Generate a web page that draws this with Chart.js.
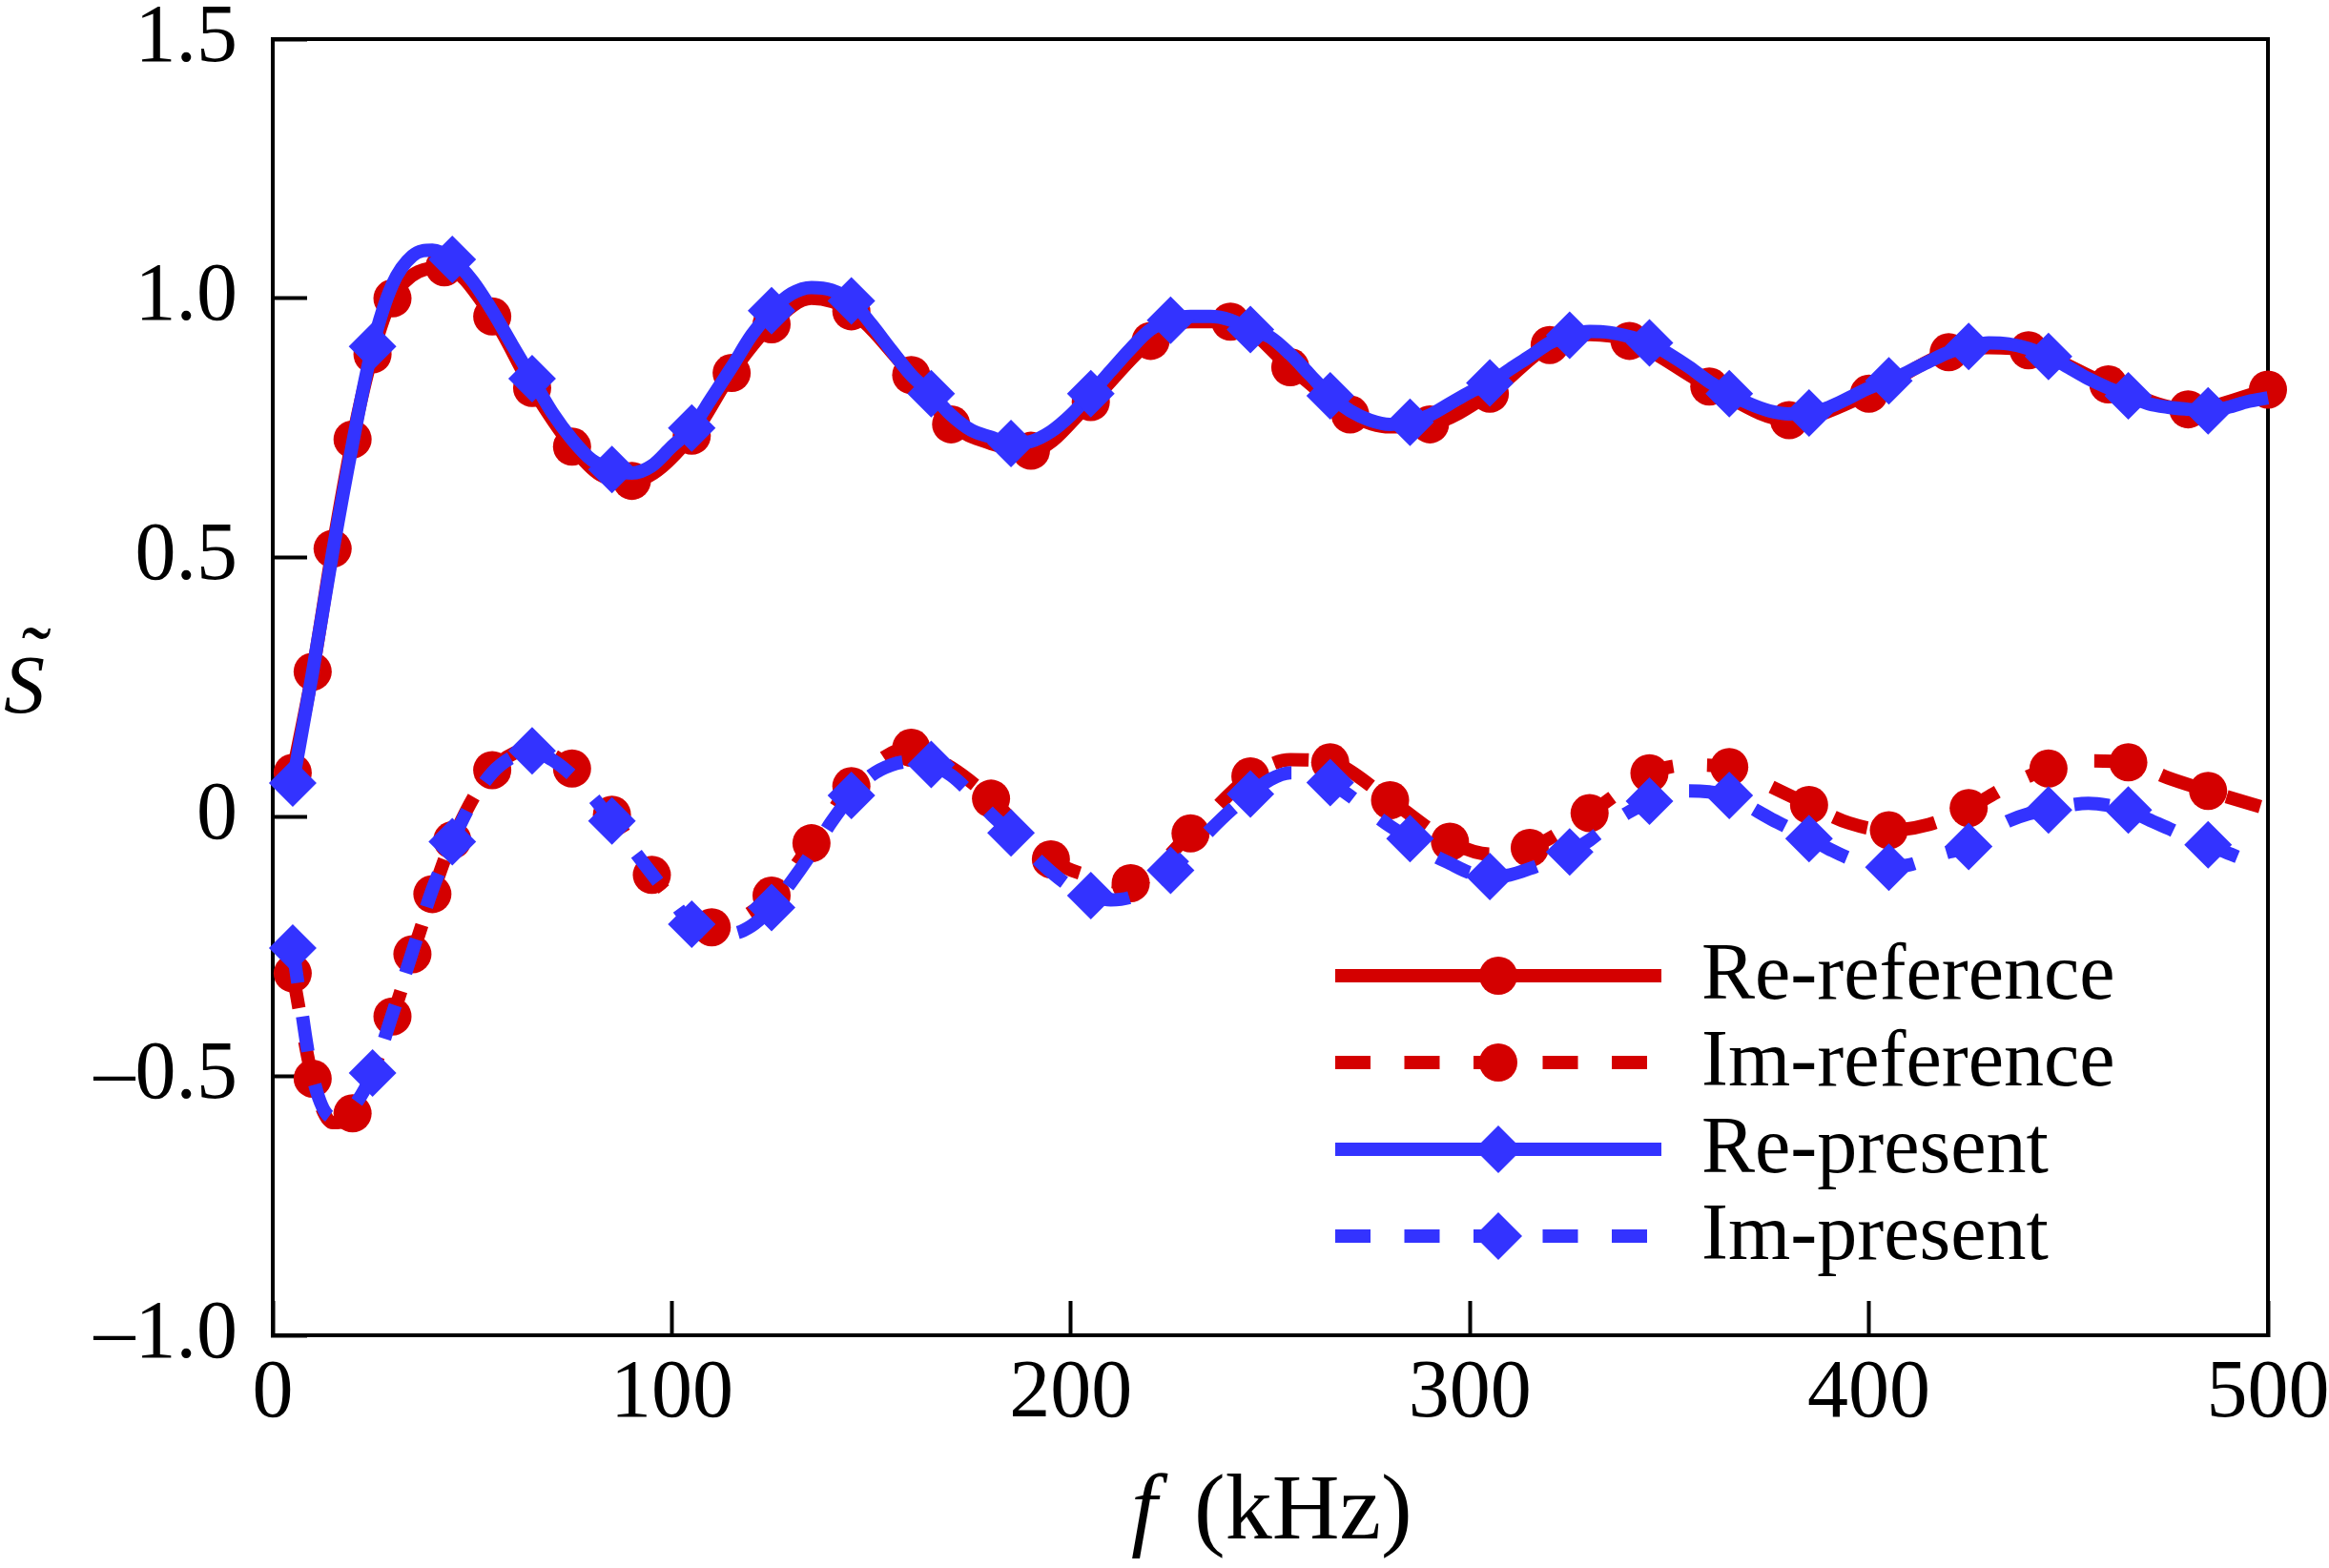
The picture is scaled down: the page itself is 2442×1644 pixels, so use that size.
<!DOCTYPE html>
<html>
<head>
<meta charset="utf-8">
<title>S vs f</title>
<script src="https://cdn.jsdelivr.net/npm/chart.js@4.4.1/dist/chart.umd.min.js"></script>
<style>
  body { margin: 0; background: #fff; }
  canvas { display: block; }
</style>
</head>
<body>
<canvas id="grafico" width="2442" height="1644"></canvas>
<script>
// referencia, parte real: frecuencias (kHz), valores y donde va un circulo
const reRefF = [5, 10, 15, 20, 25, 30, 43, 55, 65, 75, 82, 90, 105, 115, 125, 135, 145, 160, 170, 180, 190, 205, 220, 230, 240, 255, 270, 280, 290, 305, 320, 330, 340, 360, 380, 400, 420, 430, 440, 460, 480, 500];
const reRefS = [0.085, 0.28, 0.517, 0.728, 0.892, 1.0, 1.06, 0.965, 0.827, 0.714, 0.66, 0.648, 0.735, 0.856, 0.95, 1.0, 0.975, 0.852, 0.757, 0.72, 0.706, 0.8, 0.918, 0.955, 0.955, 0.867, 0.776, 0.752, 0.757, 0.816, 0.91, 0.93, 0.918, 0.83, 0.765, 0.816, 0.896, 0.905, 0.9, 0.834, 0.786, 0.824];
const reRefMarcas = [5, 10, 15, 20, 25, 30, 43, 55, 65, 75, 90, 105, 115, 125, 145, 160, 170, 190, 205, 220, 240, 255, 270, 290, 305, 320, 340, 360, 380, 400, 420, 440, 460, 480, 500];

// referencia, parte imaginaria
const imRefF = [5, 10, 15, 20, 30, 35, 40, 45, 55, 65, 75, 85, 95, 110, 125, 135, 145, 160, 170, 180, 195, 205, 215, 230, 245, 255, 265, 280, 295, 305, 315, 330, 345, 355, 365, 375, 385, 395, 405, 415, 425, 435, 445, 455, 465, 475, 485, 500];
const imRefS = [-0.302, -0.505, -0.59, -0.572, -0.385, -0.265, -0.149, -0.045, 0.09, 0.13, 0.093, 0.004, -0.112, -0.213, -0.152, -0.051, 0.059, 0.133, 0.095, 0.035, -0.082, -0.115, -0.128, -0.032, 0.078, 0.11, 0.105, 0.032, -0.048, -0.072, -0.06, 0.007, 0.084, 0.1, 0.096, 0.06, 0.023, -0.012, -0.026, -0.015, 0.017, 0.06, 0.093, 0.108, 0.105, 0.075, 0.05, 0.015];
const imRefMarcas = [5, 10, 20, 30, 35, 40, 45, 55, 75, 85, 95, 110, 125, 135, 145, 160, 180, 195, 215, 230, 245, 265, 280, 295, 315, 330, 345, 365, 385, 405, 425, 445, 465, 485];

// modelo presente, cada 5 kHz
const presF = [5, 10, 15, 20, 25, 30, 35, 40, 45, 50, 55, 60, 65, 70, 75, 80, 85, 90, 95, 100,
  105, 110, 115, 120, 125, 130, 135, 140, 145, 150, 155, 160, 165, 170, 175, 180, 185, 190, 195, 200,
  205, 210, 215, 220, 225, 230, 235, 240, 245, 250, 255, 260, 265, 270, 275, 280, 285, 290, 295, 300,
  305, 310, 315, 320, 325, 330, 335, 340, 345, 350, 355, 360, 365, 370, 375, 380, 385, 390, 395, 400,
  405, 410, 415, 420, 425, 430, 435, 440, 445, 450, 455, 460, 465, 470, 475, 480, 485, 490, 495, 500];
const rePresS = [0.065, 0.28, 0.51, 0.72, 0.907, 1.027, 1.082, 1.093, 1.075, 1.034, 0.976, 0.91, 0.845, 0.78, 0.728, 0.688, 0.67, 0.663, 0.677, 0.714,
  0.75, 0.808, 0.867, 0.929, 0.976, 1.009, 1.021, 1.016, 0.995, 0.95, 0.9, 0.852, 0.816, 0.775, 0.746, 0.732, 0.72, 0.724, 0.743, 0.775,
  0.816, 0.86, 0.903, 0.94, 0.958, 0.965, 0.965, 0.958, 0.94, 0.925, 0.892, 0.852, 0.812, 0.783, 0.765, 0.757, 0.761, 0.775, 0.797, 0.819,
  0.837, 0.863, 0.888, 0.914, 0.929, 0.936, 0.934, 0.926, 0.914, 0.892, 0.867, 0.839, 0.816, 0.797, 0.783, 0.777, 0.779, 0.79, 0.808, 0.827,
  0.841, 0.859, 0.878, 0.896, 0.907, 0.914, 0.912, 0.903, 0.888, 0.867, 0.845, 0.827, 0.812, 0.797, 0.79, 0.786, 0.783, 0.79, 0.801, 0.808];
const imPresS = [-0.253, -0.5, -0.58, -0.56, -0.494, -0.38, -0.26, -0.14, -0.048, 0.03, 0.085, 0.115, 0.127, 0.11, 0.08, 0.04, -0.008, -0.06, -0.11, -0.16,
  -0.207, -0.225, -0.225, -0.21, -0.175, -0.125, -0.07, -0.01, 0.041, 0.08, 0.1, 0.107, 0.101, 0.08, 0.045, 0.005, -0.031, -0.07, -0.106, -0.135,
  -0.152, -0.16, -0.155, -0.135, -0.103, -0.065, -0.025, 0.012, 0.044, 0.072, 0.085, 0.085, 0.066, 0.04, 0.01, -0.018, -0.042, -0.07, -0.09, -0.108,
  -0.115, -0.112, -0.1, -0.085, -0.068, -0.045, -0.015, 0.01, 0.03, 0.045, 0.05, 0.048, 0.041, 0.02, -0.002, -0.022, -0.042, -0.062, -0.08, -0.092,
  -0.097, -0.093, -0.08, -0.068, -0.057, -0.03, -0.008, 0.006, 0.013, 0.022, 0.026, 0.022, 0.013, -0.005, -0.022, -0.04, -0.054, -0.07, -0.085, -0.097];
const presMarcas = [5, 25, 45, 65, 85, 105, 125, 145, 165, 185, 205, 225, 245, 265, 285, 305, 325, 345, 365, 385, 405, 425, 445, 465, 485];

const xTicks = [0, 100, 200, 300, 400, 500];
const yTicks = [-1, -0.5, 0, 0.5, 1, 1.5];
const leyenda = ["Re-reference", "Im-reference", "Re-present", "Im-present"];

const rojo = "#d40000";
const azul = "#3333ff";
const fuente = "'Liberation Serif', 'Times New Roman', serif";
const grosor = 14;
const guiones = [37, 35.5];

// arma un dataset de linea con marcadores solo en algunas frecuencias
const serie = (etiqueta, fs, ss, marcas, color, estilo, radio, discontinua, orden) => ({
  label: etiqueta,
  data: fs.map((f, i) => ({ x: f, y: ss[i] })),
  borderColor: color,
  backgroundColor: color,
  borderWidth: grosor,
  borderDash: discontinua ? guiones : [],
  borderJoinStyle: "round",
  cubicInterpolationMode: "monotone",
  pointStyle: estilo,
  pointRadius: (ctx) => (marcas.includes(fs[ctx.dataIndex]) ? radio : 0),
  pointBorderWidth: 0,
  pointHoverRadius: 0,
  clip: false,
  order: orden,
});

const datasets = [
  serie(leyenda[0], reRefF, reRefS, reRefMarcas, rojo, "circle", 20, false, 2),
  serie(leyenda[1], imRefF, imRefS, imRefMarcas, rojo, "circle", 20, true, 2),
  serie(leyenda[2], presF, rePresS, presMarcas, azul, "rectRot", 25, false, 1),
  serie(leyenda[3], presF, imPresS, presMarcas, azul, "rectRot", 25, true, 1),
];

// pone un texto para que su tinta mida "ancho" px y quede centrada en (cx, cy)
const textoAjustado = (ctx, txt, familia, ancho, cx, cy) => {
  ctx.font = `100px ${familia}`;
  const m = ctx.measureText(txt);
  const w = m.actualBoundingBoxLeft + m.actualBoundingBoxRight;
  const k = w > 0 ? ancho / w : 0.6;
  const tam = 100 * k;
  ctx.font = `${tam}px ${familia}`;
  const m2 = ctx.measureText(txt);
  const x = cx - (m2.actualBoundingBoxRight - m2.actualBoundingBoxLeft) / 2;
  const y = cy + (m2.actualBoundingBoxAscent - m2.actualBoundingBoxDescent) / 2;
  ctx.textAlign = "left";
  ctx.textBaseline = "alphabetic";
  ctx.fillText(txt, x, y);
};

// marco de arriba y derecha, titulos y leyenda dibujados a mano
const extras = {
  id: "extras",
  beforeDatasetsDraw(chart) {
    const { ctx, chartArea: a } = chart;
    ctx.save();
    ctx.strokeStyle = "#000";
    ctx.lineWidth = 4;
    ctx.beginPath();
    ctx.moveTo(a.left - 2, a.top);
    ctx.lineTo(a.right, a.top);
    ctx.lineTo(a.right, a.bottom + 2);
    ctx.stroke();
    ctx.restore();
  },
  afterDraw(chart) {
    const { ctx } = chart;
    ctx.save();
    ctx.fillStyle = "#000";
    ctx.textBaseline = "alphabetic";
    ctx.textAlign = "left";

    // titulo eje x: f en italica
    ctx.font = `italic 98px ${fuente}`;
    ctx.fillText("f", 1186, 1613);
    ctx.font = `98px ${fuente}`;
    ctx.fillText("(kHz)", 1252, 1613);

    // titulo eje y: S con tilde encima
    ctx.font = `italic 86px ${fuente}`;
    ctx.fillText("S", 4, 747);
    textoAjustado(ctx, "\u02DC", fuente, 31, 38, 664);

    // leyenda
    const filas = [1023, 1114, 1205, 1296];
    leyenda.forEach((txt, i) => {
      const y = filas[i];
      const color = i < 2 ? rojo : azul;
      ctx.strokeStyle = color;
      ctx.lineWidth = grosor;
      ctx.setLineDash(i % 2 === 1 ? guiones : []);
      ctx.beginPath();
      ctx.moveTo(1400, y);
      ctx.lineTo(1742, y);
      ctx.stroke();
      ctx.setLineDash([]);
      ctx.fillStyle = color;
      ctx.beginPath();
      if (i < 2) {
        ctx.arc(1571, y, 20, 0, Math.PI * 2);
      } else {
        ctx.moveTo(1571 - 25, y);
        ctx.lineTo(1571, y - 25);
        ctx.lineTo(1571 + 25, y);
        ctx.lineTo(1571, y + 25);
        ctx.closePath();
      }
      ctx.fill();
      ctx.fillStyle = "#000";
      ctx.textAlign = "left";
      ctx.font = `84px ${fuente}`;
      ctx.fillText(txt, 1784, y + 24);
    });
    ctx.restore();
  },
};

const etiquetaY = (v) => {
  if (v === 0) return "0";
  return (v < 0 ? "\u2013" : "") + Math.abs(v).toFixed(1);
};

const grafico = new Chart(document.getElementById("grafico"), {
  type: "line",
  data: { datasets },
  options: {
    responsive: false,
    devicePixelRatio: 1,
    animation: false,
    events: [],
    layout: { padding: { left: 0, top: 41, right: 64, bottom: 0 } },
    plugins: { legend: { display: false }, tooltip: { enabled: false } },
    scales: {
      x: {
        type: "linear",
        min: 0,
        max: 500,
        afterBuildTicks: (s) => { s.ticks = xTicks.map((v) => ({ value: v })); },
        afterFit: (s) => { s.height = 244; s.paddingLeft = 0; s.paddingRight = 0; },
        ticks: {
          color: "#000",
          font: { family: fuente, size: 86, lineHeight: 1 },
          padding: 55,
          maxRotation: 0,
          autoSkip: false,
        },
        grid: { drawOnChartArea: false, drawTicks: true, tickLength: -36, tickWidth: 4, tickColor: "#000" },
        border: { display: true, color: "#000", width: 4 },
      },
      y: {
        type: "linear",
        min: -1,
        max: 1.5,
        afterBuildTicks: (s) => { s.ticks = yTicks.map((v) => ({ value: v })); },
        afterFit: (s) => { s.width = 286; s.paddingTop = 0; s.paddingBottom = 0; },
        ticks: {
          color: "#000",
          font: { family: fuente, size: 86, lineHeight: 1 },
          padding: 73,
          callback: etiquetaY,
        },
        grid: { drawOnChartArea: false, drawTicks: true, tickLength: -36, tickWidth: 4, tickColor: "#000" },
        border: { display: true, color: "#000", width: 4 },
      },
    },
  },
  plugins: [extras],
});
</script>
</body>
</html>
